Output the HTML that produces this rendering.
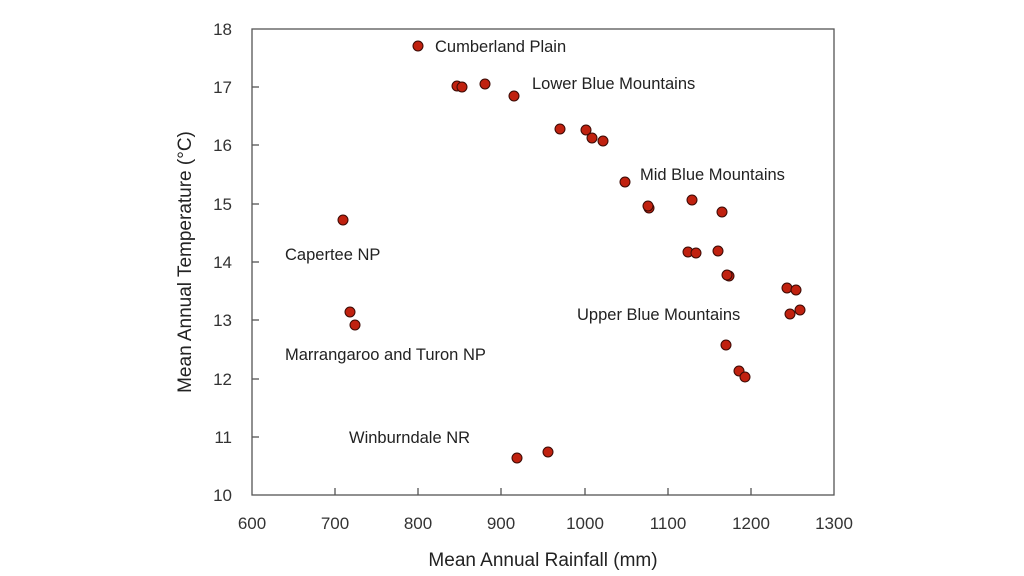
<!DOCTYPE html>
<html><head><meta charset="utf-8"><style>body{margin:0;background:#fff}svg{display:block}</style></head><body>
<svg width="1024" height="576" xmlns="http://www.w3.org/2000/svg" font-family="Liberation Sans, sans-serif" fill="#222">
<rect x="252" y="29" width="582" height="466" fill="none" stroke="#555" stroke-width="1.3"/>
<g stroke="#555" stroke-width="1.3">
<line x1="335" y1="495" x2="335" y2="488"/><line x1="418" y1="495" x2="418" y2="488"/><line x1="501" y1="495" x2="501" y2="488"/><line x1="585" y1="495" x2="585" y2="488"/><line x1="668" y1="495" x2="668" y2="488"/><line x1="751" y1="495" x2="751" y2="488"/>
<line x1="252" y1="87" x2="259" y2="87"/><line x1="252" y1="145" x2="259" y2="145"/><line x1="252" y1="204" x2="259" y2="204"/><line x1="252" y1="262" x2="259" y2="262"/><line x1="252" y1="320" x2="259" y2="320"/><line x1="252" y1="379" x2="259" y2="379"/><line x1="252" y1="437" x2="259" y2="437"/>
</g>
<g font-size="17" text-anchor="end" fill="#333">
<text x="232" y="35">18</text><text x="232" y="93">17</text><text x="232" y="151">16</text><text x="232" y="210">15</text><text x="232" y="268">14</text><text x="232" y="326">13</text><text x="232" y="385">12</text><text x="232" y="443">11</text><text x="232" y="501">10</text>
</g>
<g font-size="17" text-anchor="middle" fill="#333">
<text x="252" y="529">600</text><text x="335" y="529">700</text><text x="418" y="529">800</text><text x="501" y="529">900</text><text x="585" y="529">1000</text><text x="668" y="529">1100</text><text x="751" y="529">1200</text><text x="834" y="529">1300</text>
</g>
<text x="543" y="566" font-size="19" text-anchor="middle">Mean Annual Rainfall (mm)</text>
<text transform="translate(191,262) rotate(-90)" font-size="19" text-anchor="middle">Mean Annual Temperature (°C)</text>
<g font-size="16.5">
<text x="435" y="52">Cumberland Plain</text>
<text x="532" y="89">Lower Blue Mountains</text>
<text x="640" y="180">Mid Blue Mountains</text>
<text x="285" y="260">Capertee NP</text>
<text x="577" y="320">Upper Blue Mountains</text>
<text x="285" y="360">Marrangaroo and Turon NP</text>
<text x="349" y="443">Winburndale NR</text>
</g>
<g fill="#c0210f" stroke="#3a0a05" stroke-width="1">
<circle cx="418" cy="46" r="5"/><circle cx="457" cy="86" r="5"/><circle cx="462" cy="87" r="5"/><circle cx="485" cy="84" r="5"/><circle cx="514" cy="96" r="5"/><circle cx="560" cy="129" r="5"/><circle cx="586" cy="130" r="5"/><circle cx="592" cy="138" r="5"/><circle cx="603" cy="141" r="5"/><circle cx="625" cy="182" r="5"/><circle cx="649" cy="208" r="5"/><circle cx="648" cy="206" r="5"/><circle cx="692" cy="200" r="5"/><circle cx="722" cy="212" r="5"/><circle cx="688" cy="252" r="5"/><circle cx="696" cy="253" r="5"/><circle cx="718" cy="251" r="5"/><circle cx="729" cy="276" r="5"/><circle cx="727" cy="275" r="5"/><circle cx="787" cy="288" r="5"/><circle cx="796" cy="290" r="5"/><circle cx="790" cy="314" r="5"/><circle cx="800" cy="310" r="5"/><circle cx="726" cy="345" r="5"/><circle cx="739" cy="371" r="5"/><circle cx="745" cy="377" r="5"/><circle cx="343" cy="220" r="5"/><circle cx="350" cy="312" r="5"/><circle cx="355" cy="325" r="5"/><circle cx="517" cy="458" r="5"/><circle cx="548" cy="452" r="5"/>
</g>
</svg>
</body></html>
